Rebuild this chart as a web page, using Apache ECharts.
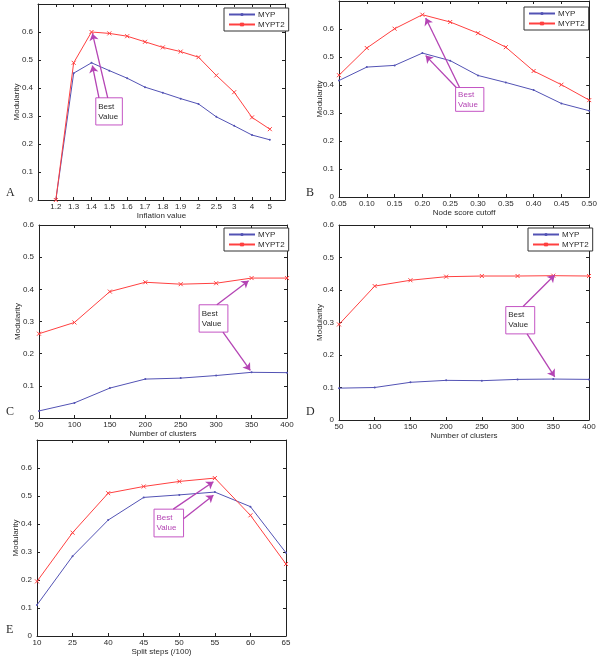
<!DOCTYPE html>
<html>
<head>
<meta charset="utf-8">
<script src="https://cdn.jsdelivr.net/npm/echarts@6/dist/echarts.min.js"></script>
<style>html,body{margin:0;padding:0;background:#fff}#c{width:600px;height:657px}</style>
</head>
<body>
<div id="c"></div>
<script>
// ---- data ----
const seriesNames = ['MYP', 'MYPT2'];
const labelsA = ['1.2','1.3','1.4','1.5','1.6','1.7','1.8','1.9','2','2.5','3','4','5'];
const mypA   = [0, 0.453, 0.490, 0.462, 0.435, 0.403, 0.383, 0.362, 0.343, 0.297, 0.265, 0.232, 0.215];
const mypt2A = [0, 0.490, 0.600, 0.595, 0.585, 0.565, 0.545, 0.530, 0.510, 0.445, 0.385, 0.295, 0.253];

const xB     = [0.05, 0.10, 0.15, 0.20, 0.25, 0.30, 0.35, 0.40, 0.45, 0.50];
const mypB   = [0.416, 0.464, 0.470, 0.514, 0.487, 0.434, 0.409, 0.382, 0.334, 0.308];
const mypt2B = [0.435, 0.532, 0.601, 0.651, 0.625, 0.585, 0.535, 0.450, 0.401, 0.346];

const xC     = [50, 100, 150, 200, 250, 300, 350, 400];
const mypC   = [0.022, 0.047, 0.093, 0.121, 0.124, 0.132, 0.142, 0.141];
const mypt2C = [0.262, 0.297, 0.393, 0.422, 0.416, 0.419, 0.435, 0.435];

const xD     = [50, 100, 150, 200, 250, 300, 350, 400];
const mypD   = [0.098, 0.100, 0.116, 0.122, 0.121, 0.125, 0.126, 0.125];
const mypt2D = [0.294, 0.412, 0.430, 0.441, 0.443, 0.443, 0.444, 0.443];

const labelsE = ['10','25','40','45','50','55','60','65'];
const mypE   = [0.111, 0.285, 0.414, 0.495, 0.504, 0.514, 0.462, 0.297];
const mypt2E = [0.195, 0.369, 0.510, 0.534, 0.552, 0.564, 0.431, 0.257];

// ---- layout / styles ----
const FONT = 'Liberation Sans, Arial, sans-serif';
const TXT = '#2a2a2a';
const BLUE = '#5252b4';
const RED = '#ff4040';
const MAG = '#b444b4';

const panels = [
  {
    letter: 'A', letterPos: [6, 187],
    grid: {left: 38, top: 4, width: 247, height: 196},
    x: {min: 0, max: 13.85, interval: 1, fmt: v => labelsA[v - 1] || ''},
    xName: 'Inflation value', xGap: 9, yGap: 17, yMax: 0.7,
    data: [mypA.map((v, i) => [i + 1, v]), mypt2A.map((v, i) => [i + 1, v])],
    legend: {left: 224, top: 8},
    box: [[3.24, 0.365], [4.73, 0.268]], boxText: TXT,
    arrows: [[[3.42, 0.365], [3.05, 0.48]], [[3.91, 0.365], [3.05, 0.595]]]
  },
  {
    letter: 'B', letterPos: [306, 187],
    grid: {left: 339, top: 1, width: 251, height: 196},
    x: {min: 0.05, max: 0.5, interval: 0.05, fmt: v => v.toFixed(2)},
    xName: 'Node score cutoff', xGap: 8, yGap: 15, yMax: 0.7,
    data: [xB.map((x, i) => [x, mypB[i]]), xB.map((x, i) => [x, mypt2B[i]])],
    legend: {left: 524, top: 7},
    box: [[0.2597, 0.391], [0.3105, 0.306]], boxText: MAG,
    arrows: [[[0.2609, 0.391], [0.2059, 0.505]], [[0.2668, 0.391], [0.2059, 0.639]]]
  },
  {
    letter: 'C', letterPos: [6, 406],
    grid: {left: 39, top: 225, width: 248, height: 193},
    x: {min: 50, max: 400, interval: 50, fmt: v => String(v)},
    xName: 'Number of clusters', xGap: 10, yGap: 17, yMax: 0.6,
    data: [xC.map((x, i) => [x, mypC[i]]), xC.map((x, i) => [x, mypt2C[i]])],
    legend: {left: 224, top: 228},
    box: [[276, 0.352], [316.6, 0.267]], boxText: TXT,
    arrows: [[[301, 0.352], [345.8, 0.427]], [[309.6, 0.267], [348.2, 0.148]]]
  },
  {
    letter: 'D', letterPos: [306, 406],
    grid: {left: 339, top: 225, width: 250, height: 195},
    x: {min: 50, max: 400, interval: 50, fmt: v => String(v)},
    xName: 'Number of clusters', xGap: 9, yGap: 15, yMax: 0.6,
    data: [xD.map((x, i) => [x, mypD[i]]), xD.map((x, i) => [x, mypt2D[i]])],
    legend: {left: 528, top: 228},
    box: [[283.5, 0.349], [324, 0.265]], boxText: TXT,
    arrows: [[[307.7, 0.349], [352, 0.446]], [[313.3, 0.265], [352, 0.133]]]
  },
  {
    letter: 'E', letterPos: [6, 624],
    grid: {left: 37, top: 440, width: 249, height: 196},
    x: {min: 0, max: 7, interval: 1, fmt: v => labelsE[v] || ''},
    xName: 'Split steps (/100)', xGap: 8, yGap: 17, yMax: 0.7,
    data: [mypE.map((v, i) => [i, v]), mypt2E.map((v, i) => [i, v])],
    legend: null,
    box: [[3.29, 0.453], [4.12, 0.354]], boxText: MAG,
    arrows: [[[3.83, 0.453], [4.96, 0.551]], [[4.12, 0.419], [4.96, 0.503]]]
  }
];

const option = {
  animation: false,
  textStyle: {fontFamily: FONT},
  title: [], grid: [], xAxis: [], yAxis: [], series: [], legend: []
};

const X_MARK = 'path://M0,0L10,10M10,0L0,10';

panels.forEach((p, gi) => {
  option.title.push({
    text: p.letter, left: p.letterPos[0], top: p.letterPos[1], padding: 0,
    textStyle: {fontFamily: 'Liberation Serif, Times New Roman, serif', fontSize: 12, fontWeight: 'normal', color: TXT}
  });
  option.grid.push(Object.assign({containLabel: false}, p.grid));
  const axLine = {show: true, onZero: false, lineStyle: {color: '#222', width: 1}};
  const tick = {show: true, inside: true, length: 3, lineStyle: {color: '#222'}};
  const yMaxHide = p.yMax > 0.65;
  option.xAxis.push({
    type: 'value', gridIndex: gi, min: p.x.min, max: p.x.max, interval: p.x.interval,
    position: 'bottom', axisLine: axLine, axisTick: tick, splitLine: {show: false},
    axisLabel: {fontSize: 8, color: TXT, margin: 3, formatter: p.x.fmt, showMinLabel: true, showMaxLabel: true},
    name: p.xName, nameLocation: 'middle', nameGap: p.xGap,
    nameTextStyle: {fontSize: 8, color: TXT}
  });
  option.xAxis.push({
    type: 'value', gridIndex: gi, min: p.x.min, max: p.x.max, interval: p.x.interval,
    position: 'top', axisLine: axLine, axisTick: tick, splitLine: {show: false},
    axisLabel: {show: false}
  });
  option.yAxis.push({
    type: 'value', gridIndex: gi, min: 0, max: p.yMax, interval: 0.1,
    position: 'left', axisLine: axLine, axisTick: tick, splitLine: {show: false},
    axisLabel: {fontSize: 8, color: TXT, margin: 5, showMaxLabel: !yMaxHide},
    name: 'Modularity', nameLocation: 'middle', nameGap: p.yGap, nameMoveOverlap: false,
    nameTextStyle: {fontSize: 8, color: TXT}
  });
  option.yAxis.push({
    type: 'value', gridIndex: gi, min: 0, max: p.yMax, interval: 0.1,
    position: 'right', axisLine: axLine, axisTick: tick, splitLine: {show: false},
    axisLabel: {show: false}
  });
  const xi = gi * 2, yi = gi * 2;
  option.series.push({
    name: seriesNames[0], type: 'line', xAxisIndex: xi, yAxisIndex: yi,
    data: p.data[0], symbol: 'circle', symbolSize: 2, showSymbol: true,
    itemStyle: {color: BLUE}, lineStyle: {color: BLUE, width: 1}, z: 3,
    markArea: {
      silent: true,
      itemStyle: {color: '#ffffff', borderColor: '#c455c4', borderWidth: 1},
      label: {show: true, position: 'insideLeft', distance: 3, formatter: 'Best\nValue',
              fontSize: 8, lineHeight: 10, color: p.boxText, fontFamily: FONT},
      data: [[{coord: p.box[0]}, {coord: p.box[1]}]]
    }
  });
  option.series.push({
    name: seriesNames[1], type: 'line', xAxisIndex: xi, yAxisIndex: yi,
    data: p.data[1], symbol: X_MARK, symbolSize: 4, showSymbol: true,
    itemStyle: {color: RED, borderColor: RED, borderWidth: 1}, lineStyle: {color: RED, width: 1}, z: 3,
    markLine: {
      silent: true, symbol: ['none', 'arrow'], symbolSize: 7,
      label: {show: false},
      lineStyle: {color: MAG, width: 1.3, type: 'solid'},
      data: p.arrows.map(a => [{coord: a[0]}, {coord: a[1]}])
    }
  });
  if (p.legend) {
    option.legend.push({
      data: seriesNames, orient: 'vertical', left: p.legend.left, top: p.legend.top,
      backgroundColor: '#fff', borderColor: '#333', borderWidth: 1, borderRadius: 0,
      padding: [2, 4, 2, 4], itemGap: 1, itemWidth: 26, itemHeight: 4,
      selectedMode: false,
      textStyle: {fontSize: 8, color: TXT, lineHeight: 9, padding: [0, 0, 0, -2]}
    });
  }
});

const chart = echarts.init(document.getElementById('c'), null, {renderer: 'canvas'});
chart.setOption(option);
</script>
</body>
</html>
